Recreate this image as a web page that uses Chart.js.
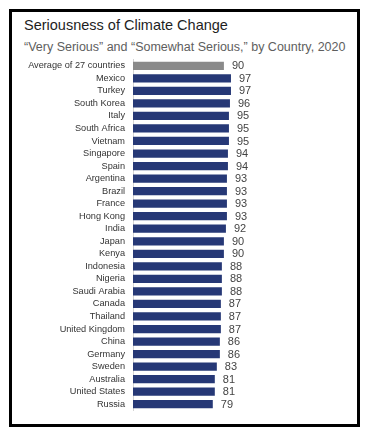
<!DOCTYPE html>
<html>
<head>
<meta charset="utf-8">
<script src="https://cdn.jsdelivr.net/npm/chart.js@4.4.1/dist/chart.umd.min.js"></script>
<style>
    body { margin: 0; background: #fff; font-family: "Liberation Sans", Arial, sans-serif; }
    #cadre { position: absolute; left: 9px; top: 9px; width: 345px; height: 412px; border: 3px solid #000; }
    #titre { position: absolute; left: 24px; top: 17px; font-size: 14.5px; color: #1e1e1e; white-space: nowrap; }
    #soustitre { position: absolute; left: 24px; top: 40px; font-size: 12.5px; color: #5e5e5e; white-space: nowrap; }
    #graph { position: absolute; left: 0; top: 0; width: 370px; height: 431px; }
</style>
</head>
<body>
<div id="cadre"></div>
<div id="titre">Seriousness of Climate Change</div>
<div id="soustitre">“Very Serious” and “Somewhat Serious,” by Country, 2020</div>
<div id="graph"><canvas id="c" width="370" height="431"></canvas></div>
<script>
const pays = [
    "Average of 27 countries", "Mexico", "Turkey", "South Korea", "Italy", "South Africa",
    "Vietnam", "Singapore", "Spain", "Argentina", "Brazil", "France", "Hong Kong", "India",
    "Japan", "Kenya", "Indonesia", "Nigeria", "Saudi Arabia", "Canada", "Thailand",
    "United Kingdom", "China", "Germany", "Sweden", "Australia", "United States", "Russia"
];
const valeurs = [
    90, 97, 97, 96, 95, 95,
    95, 94, 94, 93, 93, 93, 93, 92,
    90, 90, 88, 88, 88, 87, 87,
    87, 86, 86, 83, 81, 81, 79
];
const couleurs = pays.map(function (p, i) {
    return i === 0 ? "#8a8a8a" : "#263876";
});

// etiquettes de valeur au bout des barres
const etiquettes = {
    id: "etiquettes",
    afterDatasetsDraw: function (chart) {
        const ctx = chart.ctx;
        const meta = chart.getDatasetMeta(0);
        ctx.save();
        ctx.font = "11px 'Liberation Sans', Arial, sans-serif";
        ctx.fillStyle = "#444";
        ctx.textAlign = "left";
        ctx.textBaseline = "middle";
        meta.data.forEach(function (bar, i) {
            ctx.fillText(valeurs[i], bar.x + 8, bar.y + 0.5);
        });
        ctx.restore();
    }
};

new Chart(document.getElementById("c"), {
    type: "bar",
    data: {
        labels: pays,
        datasets: [{
            data: valeurs,
            backgroundColor: couleurs,
            barPercentage: 0.66,
            categoryPercentage: 1
        }]
    },
    options: {
        indexAxis: "y",
        responsive: false,
        animation: false,
        layout: { padding: { top: 59.5, bottom: 20.5, left: 0, right: 35 } },
        scales: {
            x: { display: false, min: 0, max: 200 },
            y: {
                grid: { display: false, drawTicks: false },
                border: { display: true, color: "#d4d4d4", width: 1 },
                ticks: {
                    autoSkip: false,
                    padding: 8,
                    color: "#333",
                    font: { family: "'Liberation Sans', Arial, sans-serif", size: 9.2 }
                },
                afterFit: function (scale) { scale.width = 133; }
            }
        },
        plugins: {
            legend: { display: false },
            tooltip: { enabled: false }
        }
    },
    plugins: [etiquettes]
});
</script>
</body>
</html>
